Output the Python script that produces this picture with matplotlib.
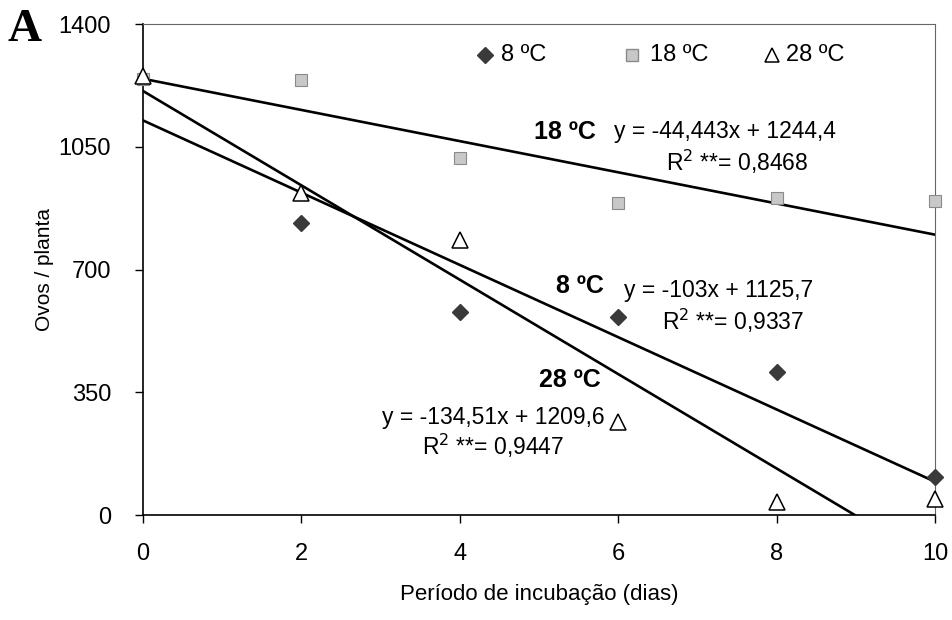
import matplotlib.pyplot as plt
import numpy as np

plt.rcParams['font.family'] = ['Liberation Sans', 'DejaVu Sans']

dias = [0, 2, 4, 6, 8, 10]
dias_8 = [2, 4, 6, 8, 10]
ovos_8 = [833, 579, 565, 408, 108]
ovos_18 = [1243, 1240, 1018, 890, 904, 895]
ovos_28 = [1252, 918, 784, 265, 37, 46]

# regression coefficients (slope, intercept) as printed on the chart
fit_8 = (-103.0, 1125.7)
fit_18 = (-44.443, 1244.4)
fit_28 = (-134.51, 1209.6)

def fit_line(ax, coef):
    a, b = coef
    x_end = min(10, -b / a)
    xs = np.array([0, x_end])
    ax.plot(xs, a * xs + b, color='black', lw=1.9, zorder=2)

fig = plt.figure(figsize=(9.53, 6.2), dpi=100)
ax = fig.add_axes([0.150, 0.169, 0.831, 0.792])

fit_line(ax, fit_18)
fit_line(ax, fit_8)
fit_line(ax, fit_28)

ax.plot(dias_8, ovos_8, ls='none', marker='D', ms=8.5, mfc='#3a3a3a', mec='#3a3a3a', zorder=3, clip_on=False)
ax.plot(dias, ovos_18, ls='none', marker='s', ms=8, mfc='#c8c8c8', mec='#8a8a8a', mew=0.8, zorder=3, clip_on=False)
ax.plot(dias, ovos_28, ls='none', marker='^', ms=11, mfc='white', mec='black', mew=1.1, zorder=4, clip_on=False)

ax.set_xlim(0, 10)
ax.set_ylim(0, 1400)
ax.set_xticks([0, 2, 4, 6, 8, 10])
ax.set_yticks([0, 350, 700, 1050, 1400])
ax.tick_params(axis='both', labelsize=17, direction='out', length=6, width=1)
ax.tick_params(axis='x', pad=14)
ax.tick_params(axis='y', pad=17)
for s in ['left', 'bottom']:
    ax.spines[s].set_linewidth(1.2)
for s in ['top', 'right']:
    ax.spines[s].set_color('#666666')
    ax.spines[s].set_linewidth(0.8)

ax.set_xlabel('Período de incubação (dias)', fontsize=16, labelpad=14)
ax.set_ylabel('Ovos / planta', fontsize=15)
ax.yaxis.set_label_coords(-0.112, 0.5)

# legend drawn as plain markers and text
ax.plot([4.32], [1311], marker='D', ms=8.5, color='#3a3a3a', ls='none', clip_on=False)
ax.text(4.52, 1311, '8 ºC', fontsize=17, va='center')
ax.plot([6.18], [1311], marker='s', ms=8, mfc='#c8c8c8', mec='#8a8a8a', ls='none')
ax.text(6.40, 1311, '18 ºC', fontsize=17, va='center')
ax.plot([7.94], [1311], marker='^', ms=10, mfc='white', mec='black', mew=1.1, ls='none')
ax.text(8.12, 1311, '28 ºC', fontsize=17, va='center')

# equation labels
ax.text(5.33, 1093, '18 ºC', fontsize=18, weight='bold', ha='center', va='center')
ax.text(5.95, 1093, 'y = -44,443x + 1244,4', fontsize=16.5, ha='left', va='center')
ax.text(7.50, 1006, 'R$^2$ **= 0,8468', fontsize=16.5, ha='center', va='center')

ax.text(5.52, 654, '8 ºC', fontsize=18, weight='bold', ha='center', va='center')
ax.text(6.07, 640, 'y = -103x + 1125,7', fontsize=16.5, ha='left', va='center')
ax.text(7.45, 553, 'R$^2$ **= 0,9337', fontsize=16.5, ha='center', va='center')

ax.text(5.39, 385, '28 ºC', fontsize=18, weight='bold', ha='center', va='center')
ax.text(4.42, 280, 'y = -134,51x + 1209,6', fontsize=16.5, ha='center', va='center')
ax.text(4.42, 197, 'R$^2$ **= 0,9447', fontsize=16.5, ha='center', va='center')

fig.text(0.026, 0.951, 'A', fontsize=34, weight='bold', family='Liberation Serif', ha='center', va='center')

fig.savefig('out.png', dpi=100)
